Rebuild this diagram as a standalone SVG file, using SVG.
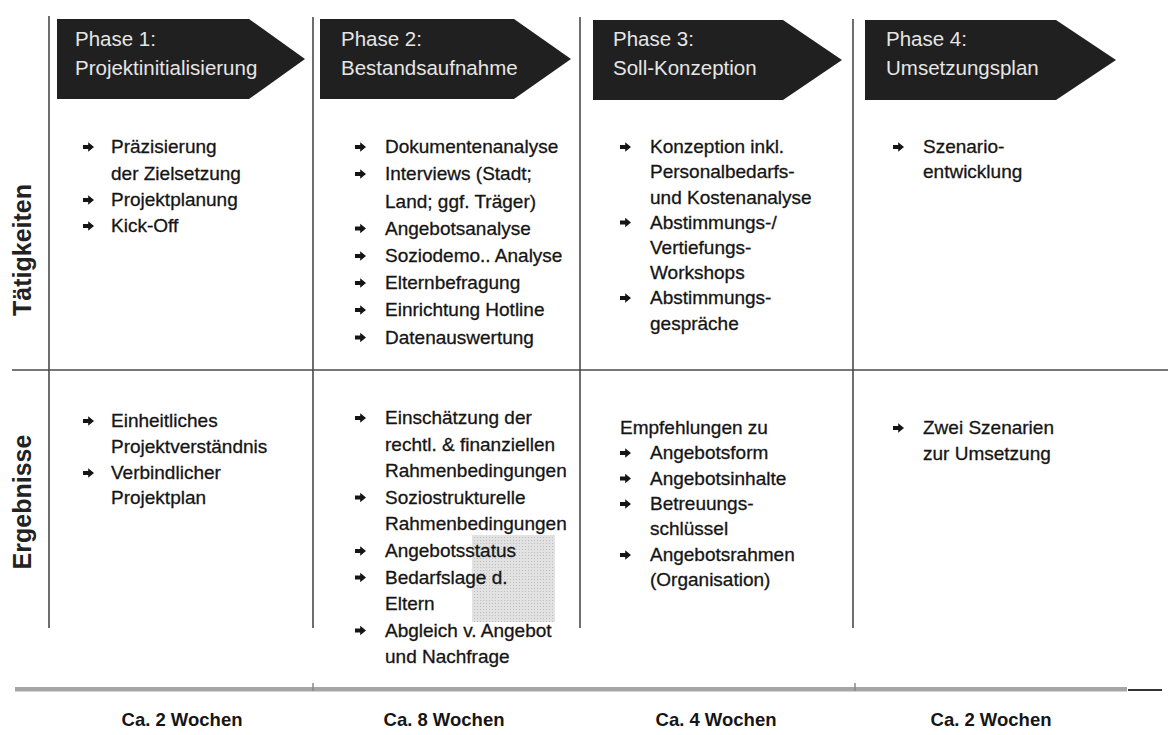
<svg xmlns="http://www.w3.org/2000/svg" width="1168" height="735" viewBox="0 0 1168 735">
<style>
.t{font-family:"Liberation Sans",Arial,sans-serif;font-size:19px;fill:#151515;stroke:#151515;stroke-width:0.3}
.ph{font-family:"Liberation Sans",Arial,sans-serif;font-size:20.5px;fill:#e6e6e6}
.lab{font-family:"Liberation Sans",Arial,sans-serif;font-size:25px;font-weight:bold;fill:#222}
.dur{font-family:"Liberation Sans",Arial,sans-serif;font-size:18.5px;font-weight:bold;fill:#151515;text-anchor:middle}
.grid{stroke:#4a4a4a;stroke-width:1.6;fill:none}
.arrow{fill:#202020}
</style>
<defs>
<path id="b" d="M0,-2.1 L5.2,-2.1 L5.2,-4.8 L11,0 L5.2,4.8 L5.2,2.1 L0,2.1 Z" fill="#151515"/>
<pattern id="dots" width="3" height="3" patternUnits="userSpaceOnUse">
<rect width="3" height="3" fill="#e2e2e2"/>
<rect width="1" height="1" fill="#bdbdbd"/>
</pattern>
</defs>
<rect width="1168" height="735" fill="#ffffff"/>
<g id="connectors">
<line class="grid" x1="49" y1="16" x2="49" y2="628"/>
<line class="grid" x1="313" y1="17" x2="313" y2="628"/>
<line class="grid" x1="580" y1="17" x2="580" y2="628"/>
<line class="grid" x1="853" y1="19" x2="853" y2="628"/>
<line class="grid" x1="12" y1="370" x2="1168" y2="370"/>
<rect x="15" y="687" width="1112" height="4.5" fill="#a6a6a6"/>
<line x1="313" y1="683" x2="313" y2="691" stroke="#888" stroke-width="1.5"/>
<line x1="855" y1="683" x2="855" y2="691" stroke="#888" stroke-width="1.5"/>
<line x1="1128" y1="690" x2="1162" y2="690" stroke="#333" stroke-width="2"/>
</g>
<rect x="472" y="535" width="83" height="87" fill="url(#dots)"/>
<g id="phase1">
<path class="arrow" d="M57,19 H249 L305,59 L249,99 H57 Z"/>
<text class="ph" x="75" y="46">Phase 1:</text>
<text class="ph" x="75" y="75">Projektinitialisierung</text>
</g>
<g id="phase2">
<path class="arrow" d="M320,19 H514 L571,59 L514,99 H320 Z"/>
<text class="ph" x="341" y="46">Phase 2:</text>
<text class="ph" x="341" y="75">Bestandsaufnahme</text>
</g>
<g id="phase3">
<path class="arrow" d="M593,20 H783 L842,60 L783,100 H593 Z"/>
<text class="ph" x="613" y="46">Phase 3:</text>
<text class="ph" x="613" y="75">Soll-Konzeption</text>
</g>
<g id="phase4">
<path class="arrow" d="M865,20 H1056 L1116,60 L1056,100 H865 Z"/>
<text class="ph" x="886" y="46">Phase 4:</text>
<text class="ph" x="886" y="75">Umsetzungsplan</text>
</g>
<g id="row-labels">
<text class="lab" transform="translate(31,250) rotate(-90)" text-anchor="middle">Tätigkeiten</text>
<text class="lab" transform="translate(31,502) rotate(-90)" text-anchor="middle">Ergebnisse</text>
</g>
<g id="act1">
<use href="#b" x="83" y="147"/><text class="t" x="111" y="153">Präzisierung</text>
<text class="t" x="111" y="179.5">der Zielsetzung</text>
<use href="#b" x="83" y="200"/><text class="t" x="111" y="206">Projektplanung</text>
<use href="#b" x="83" y="226"/><text class="t" x="111" y="232">Kick-Off</text>
</g>
<g id="act2">
<use href="#b" x="355" y="147"/><text class="t" x="385" y="153">Dokumentenanalyse</text>
<use href="#b" x="355" y="174"/><text class="t" x="385" y="180">Interviews (Stadt;</text>
<text class="t" x="385" y="207.5">Land; ggf. Träger)</text>
<use href="#b" x="355" y="228.5"/><text class="t" x="385" y="234.5">Angebotsanalyse</text>
<use href="#b" x="355" y="256"/><text class="t" x="385" y="262">Soziodemo.. Analyse</text>
<use href="#b" x="355" y="283"/><text class="t" x="385" y="289">Elternbefragung</text>
<use href="#b" x="355" y="310"/><text class="t" x="385" y="316">Einrichtung Hotline</text>
<use href="#b" x="355" y="337.5"/><text class="t" x="385" y="343.5">Datenauswertung</text>
</g>
<g id="act3">
<use href="#b" x="620" y="147"/><text class="t" x="650" y="153">Konzeption inkl.</text>
<text class="t" x="650" y="178">Personalbedarfs-</text>
<text class="t" x="650" y="203.5">und Kostenanalyse</text>
<use href="#b" x="620" y="222.5"/><text class="t" x="650" y="228.5">Abstimmungs-/</text>
<text class="t" x="650" y="254">Vertiefungs-</text>
<text class="t" x="650" y="279">Workshops</text>
<use href="#b" x="620" y="298"/><text class="t" x="650" y="304">Abstimmungs-</text>
<text class="t" x="650" y="329.5">gespräche</text>
</g>
<g id="act4">
<use href="#b" x="893" y="147"/><text class="t" x="923" y="153">Szenario-</text>
<text class="t" x="923" y="178">entwicklung</text>
</g>
<g id="res1">
<use href="#b" x="83" y="421"/><text class="t" x="111" y="427">Einheitliches</text>
<text class="t" x="111" y="453">Projektverständnis</text>
<use href="#b" x="83" y="473"/><text class="t" x="111" y="479">Verbindlicher</text>
<text class="t" x="111" y="504">Projektplan</text>
</g>
<g id="res2">
<use href="#b" x="355" y="418"/><text class="t" x="385" y="424">Einschätzung der</text>
<text class="t" x="385" y="450.5">rechtl. &amp; finanziellen</text>
<text class="t" x="385" y="477">Rahmenbedingungen</text>
<use href="#b" x="355" y="497.5"/><text class="t" x="385" y="503.5">Soziostrukturelle</text>
<text class="t" x="385" y="530">Rahmenbedingungen</text>
<use href="#b" x="355" y="551"/><text class="t" x="385" y="557">Angebotsstatus</text>
<use href="#b" x="355" y="577.5"/><text class="t" x="385" y="583.5">Bedarfslage d.</text>
<text class="t" x="385" y="610">Eltern</text>
<use href="#b" x="355" y="630.5"/><text class="t" x="385" y="636.5">Abgleich v. Angebot</text>
<text class="t" x="385" y="663">und Nachfrage</text>
</g>
<g id="res3">
<text class="t" x="620" y="434">Empfehlungen zu</text>
<use href="#b" x="620" y="453"/><text class="t" x="650" y="459">Angebotsform</text>
<use href="#b" x="620" y="478.5"/><text class="t" x="650" y="484.5">Angebotsinhalte</text>
<use href="#b" x="620" y="504"/><text class="t" x="650" y="510">Betreuungs-</text>
<text class="t" x="650" y="535">schlüssel</text>
<use href="#b" x="620" y="555"/><text class="t" x="650" y="561">Angebotsrahmen</text>
<text class="t" x="650" y="586">(Organisation)</text>
</g>
<g id="res4">
<use href="#b" x="893" y="428"/><text class="t" x="923" y="434">Zwei Szenarien</text>
<text class="t" x="923" y="460">zur Umsetzung</text>
</g>
<g id="durations">
<text class="dur" x="182" y="726">Ca. 2 Wochen</text>
<text class="dur" x="444" y="726">Ca. 8 Wochen</text>
<text class="dur" x="716" y="726">Ca. 4 Wochen</text>
<text class="dur" x="991" y="726">Ca. 2 Wochen</text>
</g>
</svg>
